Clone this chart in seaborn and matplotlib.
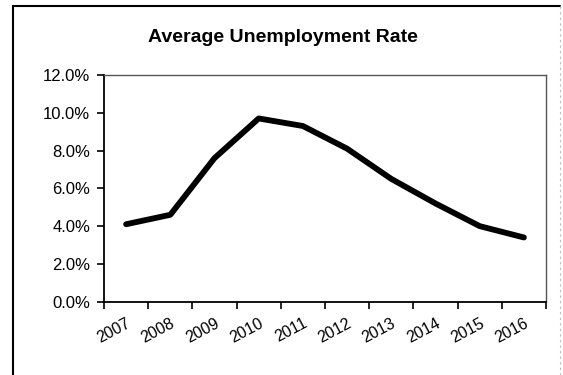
import matplotlib
matplotlib.use("Agg")
import matplotlib.pyplot as plt
import seaborn as sns
import numpy as np
import pandas as pd
from matplotlib.ticker import PercentFormatter, FixedLocator, NullFormatter
from matplotlib.lines import Line2D

years = ["2007", "2008", "2009", "2010", "2011", "2012", "2013", "2014", "2015", "2016"]
rates = [4.1, 4.6, 7.6, 9.7, 9.3, 8.1, 6.5, 5.2, 4.0, 3.4]
title = "Average Unemployment Rate"

sns.set_theme(style="white")
plt.rcParams["font.family"] = ["Liberation Sans", "DejaVu Sans"]

df = pd.DataFrame({"Year": years, "Rate": rates})

fig = plt.figure(figsize=(5.63, 3.75), dpi=100)
ax = fig.add_axes([104 / 563, 1 - 301.7 / 375, (546 - 104) / 563, (301.7 - 75) / 375])

sns.lineplot(data=df, x="Year", y="Rate", ax=ax, color="black", linewidth=4.2,
             solid_joinstyle="round", solid_capstyle="round")

ax.set_xlim(-0.5, len(years) - 0.5)
ax.set_ylim(0, 12)
ax.set_yticks(np.arange(0, 12.01, 2))
ax.yaxis.set_major_formatter(PercentFormatter(decimals=1))

ax.xaxis.set_major_locator(FixedLocator(np.arange(-0.5, len(years), 1.0)))
ax.xaxis.set_major_formatter(NullFormatter())
ax.set_xticks(np.arange(len(years)), labels=years, minor=True)
for lbl in ax.get_xticklabels(minor=True):
    lbl.set_rotation(28)
    lbl.set_ha("right")
    lbl.set_va("top")
    lbl.set_rotation_mode("anchor")
ax.tick_params(axis="x", which="minor", length=0, pad=10, labelsize=11.5, colors="black")
ax.tick_params(axis="x", which="major", direction="out", length=5, width=1.2,
               bottom=True, color="black")
ax.tick_params(axis="y", direction="out", length=5, width=1.2, left=True,
               labelsize=12, colors="black", pad=5)

ax.set_xlabel("")
ax.set_ylabel("")
ax.grid(False)

for side in ["left", "bottom"]:
    ax.spines[side].set_color("black")
    ax.spines[side].set_linewidth(1.3)
for side in ["top", "right"]:
    ax.spines[side].set_color("#555555")
    ax.spines[side].set_linewidth(1.0)

fig.text(0.503, 0.9, title, ha="center", va="center", fontsize=14, fontweight="bold",
         color="black")

# outer frame
fig.add_artist(Line2D([12.5 / 563, 12.5 / 563], [0, 1 - 5.5 / 375], transform=fig.transFigure,
                      color="black", linewidth=1.5))
fig.add_artist(Line2D([12.5 / 563, 560 / 563], [1 - 5.5 / 375, 1 - 5.5 / 375],
                      transform=fig.transFigure, color="black", linewidth=1.5))
fig.add_artist(Line2D([560 / 563, 560 / 563], [0, 1 - 5.5 / 375], transform=fig.transFigure,
                      color="#bbbbbb", linewidth=0.8, linestyle=(0, (2, 3))))

fig.savefig("out.png", dpi=100)
